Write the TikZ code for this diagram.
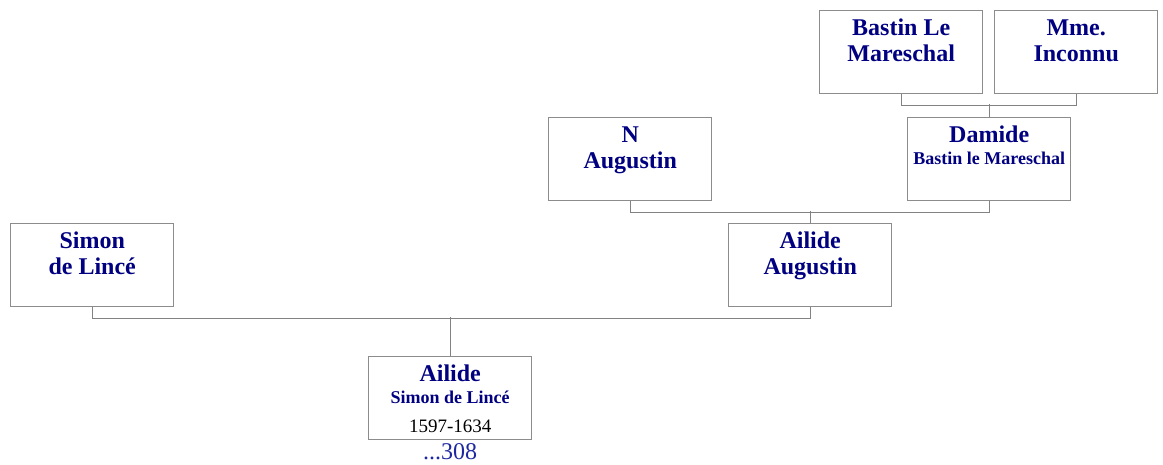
\documentclass[tikz,border=0pt]{standalone}
\usepackage{fontspec}
\setmainfont{Liberation Serif}
\usetikzlibrary{positioning}
\definecolor{namecol}{RGB}{0,0,128}
\definecolor{linkcol}{RGB}{30,40,160}
\definecolor{boxgray}{RGB}{140,140,140}
\definecolor{linegray}{RGB}{130,130,130}
\newcommand\subname[1]{\par{\fontsize{18}{22}\selectfont #1\par}}
\newcommand\lifespan[1]{\par{\color{black}\mdseries\fontsize{19}{29}\selectfont #1\par}}
\tikzset{
  person/.style={draw=boxgray, line width=1.4pt, inner sep=0pt, anchor=north west,
    text=namecol, font=\fontsize{24}{26}\selectfont\bfseries,
    execute at begin node={\begin{minipage}[t][83pt][t]{163pt}\centering\rule{0pt}{25pt}\ignorespaces},
    execute at end node={\end{minipage}}},
  link/.style={draw=linegray, line width=1.4pt}
}
\begin{document}
\begin{tikzpicture}[x=1pt, y=-1pt]
  \useasboundingbox (0,0) rectangle (1163,464);
  \node[person] (bastin) at (819,10) {Bastin Le\par Mareschal};
  \node[person] (mme) at (994,10) {Mme.\par Inconnu};
  \node[person] (damide) at (907,117) {Damide\subname{Bastin le Mareschal}};
  \node[person] (naug) at (548,117) {N\par Augustin};
  \node[person] (ailaug) at (728,223) {Ailide\par Augustin};
  \node[person] (simon) at (10,223) {Simon\par de Lincé};
  \node[person] (ailide) at (368,356) {Ailide\subname{Simon de Lincé}\lifespan{1597-1634}};
  \node[anchor=base, inner sep=0pt, text=linkcol, font=\fontsize{24}{26}\selectfont] (more) at ([yshift=-19pt]ailide.south) {...308};
  \draw[link] (bastin.south) -- ++(0,11) -| (mme.south);
  \draw[link] (damide.north) -- ++(0,-13);
  \draw[link] (naug.south) -- ++(0,11) -| (damide.south);
  \draw[link] (ailaug.north) -- ++(0,-12);
  \draw[link] (simon.south) -- ++(0,11) -| (ailaug.south);
  \draw[link] (ailide.north) -- ++(0,-39);
\end{tikzpicture}
\end{document}
